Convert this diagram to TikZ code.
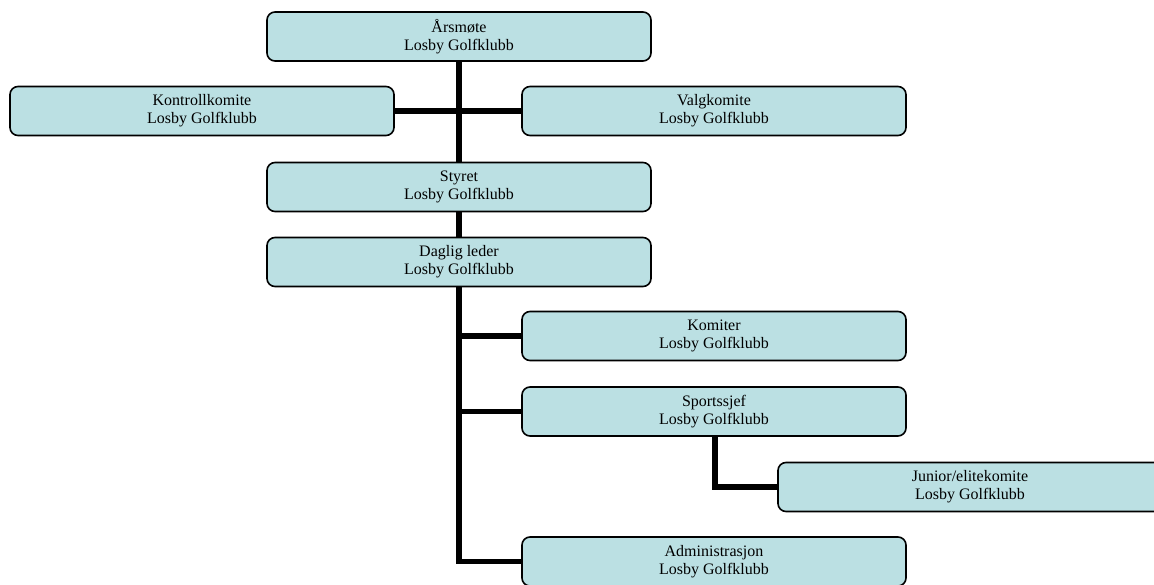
\documentclass[tikz,border=0pt]{standalone}
\usepackage{fontspec}
\setmainfont{Liberation Serif}
\definecolor{boxfill}{HTML}{BBE0E3}
\tikzset{
  orgbox/.style={draw=black, line width=1.6pt, fill=boxfill, rounded corners=8pt,
    minimum width=384pt, minimum height=49pt, inner sep=0pt,
    align=center, font=\fontsize{16}{18}\selectfont},
  link/.style={line width=5.5pt, draw=black}
}
\begin{document}
\begin{tikzpicture}[x=1pt,y=-1pt]
\useasboundingbox (0,0) rectangle (1154,585);
\node[orgbox] (aars) at (459,36.5) {Årsmøte\\Losby Golfklubb};
\node[orgbox] (kontroll) at (202,111) {Kontrollkomite\\Losby Golfklubb};
\node[orgbox] (valg) at (714,111) {Valgkomite\\Losby Golfklubb};
\node[orgbox] (styret) at (459,187) {Styret\\Losby Golfklubb};
\node[orgbox] (daglig) at (459,262) {Daglig leder\\Losby Golfklubb};
\node[orgbox] (komiter) at (714,336) {Komiter\\Losby Golfklubb};
\node[orgbox] (sport) at (714,411.5) {Sportssjef\\Losby Golfklubb};
\node[orgbox] (junior) at (970,487) {Junior/elitekomite\\Losby Golfklubb};
\node[orgbox] (admin) at (714,561.5) {Administrasjon\\Losby Golfklubb};
\coordinate (dend) at (459,561.5);
\coordinate (sj) at (715,487);
\draw[link] (aars.south) -- (styret.north);
\draw[link] (kontroll.east) -- (valg.west);
\draw[link] (styret.south) -- (daglig.north);
\draw[link] (daglig.south) -- (dend) -- (admin.west);
\draw[link] (daglig.south |- komiter.west) -- (komiter.west);
\draw[link] (daglig.south |- sport.west) -- (sport.west);
\draw[link] (sport.south -| sj) -- (sj) -- (junior.west);
\end{tikzpicture}
\end{document}
